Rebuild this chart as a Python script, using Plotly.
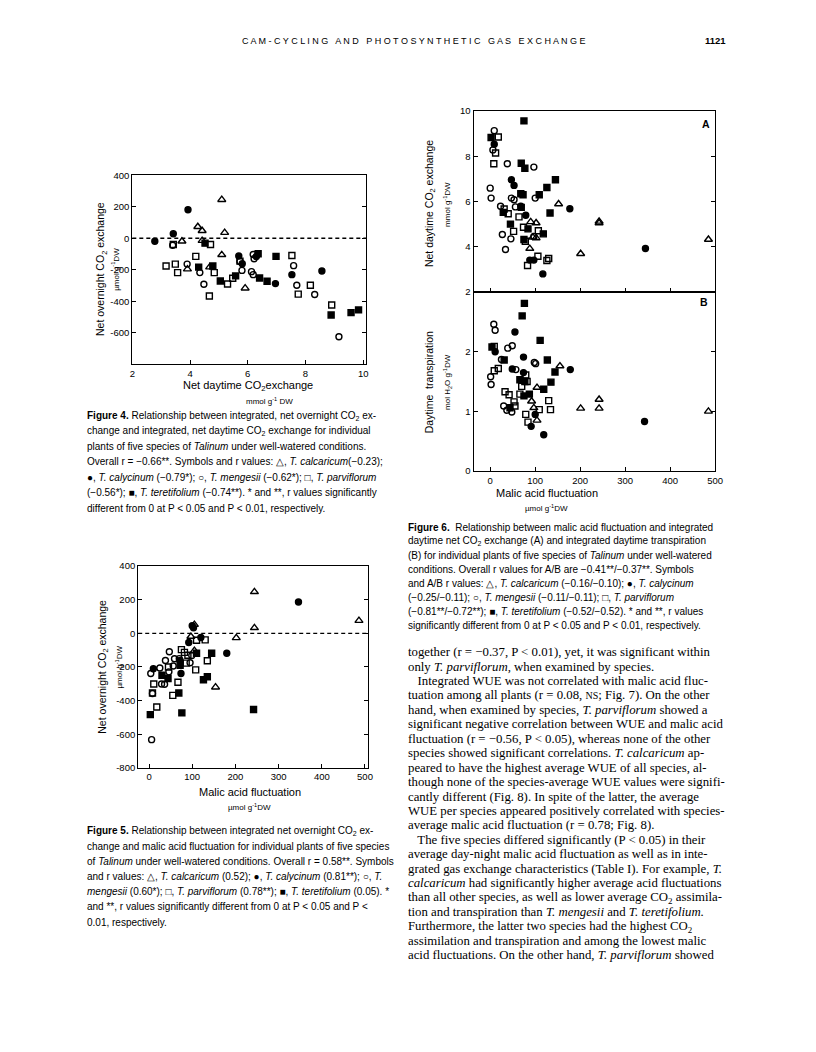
import plotly.graph_objects as go

# the page is drawn inside the default 8px body margin, so every position
# below is given in page pixels and shifted by OFF when placed
OFF = 8
W, H = 800, 1036

species = ["T. calcaricum", "T. calycinum", "T. mengesii", "T. parviflorum", "T. teretifolium"]
symbols = ["triangle-up-open", "circle", "circle-open", "square-open", "square"]

# Figure 4: net daytime CO2 exchange (x) vs net overnight CO2 exchange (y)
f4_calc_x = [5.10, 4.27, 4.42, 5.20, 3.72, 4.42, 5.10, 3.91, 4.68, 5.91]
f4_calc_y = [245, 73, 48, 36, -19, -15, -105, -196, -183, -317]
f4_caly_x = [3.93, 3.42, 2.78, 5.69, 5.81, 6.30, 7.53, 8.57, 6.96]
f4_caly_y = [181, 29, -19, -113, -162, -116, -231, -208, -288]
f4_meng_x = [3.40, 3.90, 4.34, 4.48, 5.73, 5.80, 6.13, 6.19, 6.22, 6.19, 7.59, 7.70, 8.32, 9.16]
f4_meng_y = [-44, -164, -218, -292, -147, -204, -212, -231, -130, -103, -174, -298, -357, -625]
f4_parv_x = [3.17, 3.49, 3.57, 4.20, 4.71, 4.84, 4.67, 5.30, 5.48, 5.73, 7.53, 7.75, 8.17, 8.91, 3.42]
f4_parv_y = [-176, -164, -218, -115, -40, -218, -367, -290, -254, -145, -109, -355, -298, -424, -40]
f4_tere_x = [4.52, 4.30, 4.79, 5.05, 5.58, 6.36, 6.41, 6.67, 6.98, 8.89, 9.58, 9.84]
f4_tere_y = [-31, -183, -176, -271, -239, -98, -252, -273, -115, -487, -472, -455]

# Figure 5: malic acid fluctuation (x) vs net overnight CO2 exchange (y)
f5_calc_x = [244, 486, 244, 202, 97, 105, 154, 105]
f5_calc_y = [247, 76, 33, -27, -19, -103, -320, 52]
f5_caly_x = [346, 103, 92, 120, 180, 72, 74, 10, 100]
f5_caly_y = [186, 33, -54, -25, -118, -161, -239, -210, 45]
f5_meng_x = [47, 38, 25, 4, 56, 46, 29, 36, 59, 99, 95, 6, 8, 70]
f5_meng_y = [-109, -161, -206, -239, -194, -229, -301, -303, -151, -132, -175, -632, -358, -150]
f5_parv_x = [75, 82, 110, 130, 135, 108, 86, 67, 55, 11, 8, 18, 90, 45]
f5_parv_y = [-97, -113, -41, -39, -163, -217, -177, -291, -369, -301, -355, -438, -130, -200]
f5_tere_x = [110, 145, 135, 126, 69, 44, 30, 242, 76, 3, 72]
f5_tere_y = [-118, -118, -258, -276, -355, -268, -249, -453, -473, -483, -190]

# Figure 6A: malic acid fluctuation (x) vs net daytime CO2 exchange (y)
f6a_calc_x = [152, 90, 102, 95, 102, 88, 201, 242, 242, 485]
f6a_calc_y = [5.89, 5.10, 5.05, 4.42, 4.39, 3.92, 3.69, 5.12, 5.05, 4.32]
f6a_caly_x = [9, 47, 53, 177, 79, 68, 88, 97, 117, 345]
f6a_caly_y = [8.53, 6.96, 6.71, 5.68, 5.39, 5.79, 3.41, 3.41, 2.80, 3.92]
f6a_meng_x = [9, 6, 0, 2, 38, 97, 100, 23, 47, 53, 56, 27, 46, 34, 97]
f6a_meng_y = [9.13, 8.28, 6.59, 6.15, 7.67, 7.52, 6.15, 5.79, 6.15, 6.08, 5.76, 4.54, 4.35, 3.88, 4.46]
f6a_parv_x = [18, 12, 8, 31, 40, 52, 64, 74, 78, 83, 106, 126, 130, 107]
f6a_parv_y = [8.85, 8.14, 7.67, 5.67, 5.46, 4.68, 5.32, 4.86, 4.24, 3.17, 3.58, 3.39, 3.48, 4.71]
f6a_tere_x = [75, 2, 69, 77, 145, 126, 109, 68, 73, 133, 69, 45, 29, 84, 75, 118]
f6a_tere_y = [9.56, 8.83, 7.69, 7.47, 6.96, 6.62, 6.30, 6.34, 6.30, 5.49, 5.74, 5.00, 5.52, 4.79, 4.32, 4.57]

# Figure 6B: malic acid fluctuation (x) vs daytime transpiration (y)
f6b_calc_x = [155, 104, 92, 97, 104, 201, 242, 242, 485]
f6b_calc_y = [1.76, 1.40, 1.17, 1.06, 0.85, 1.05, 1.20, 1.05, 1.00]
f6b_caly_x = [55, 11, 74, 49, 74, 178, 100, 91, 119, 343]
f6b_caly_y = [2.33, 2.00, 1.91, 1.71, 1.65, 1.70, 0.95, 0.75, 0.61, 0.83]
f6b_meng_x = [8, 11, 1, 2, 39, 49, 25, 57, 98, 101, 30, 37, 48]
f6b_meng_y = [2.46, 2.36, 1.58, 1.45, 2.06, 2.10, 1.87, 1.70, 1.82, 1.80, 1.09, 1.02, 0.99]
f6b_parv_x = [9, 18, 9, 33, 42, 53, 55, 66, 70, 79, 82, 79, 84, 130, 134, 109]
f6b_parv_y = [2.09, 1.72, 1.68, 1.33, 1.28, 1.16, 1.09, 1.29, 1.42, 1.61, 1.50, 0.95, 0.82, 1.18, 1.03, 1.03]
f6b_tere_x = [76, 71, 111, 127, 31, 144, 135, 119, 66, 77, 87, 75, 44, 4]
f6b_tere_y = [2.81, 2.60, 2.19, 1.86, 1.86, 1.66, 1.49, 1.37, 1.53, 1.50, 1.29, 1.26, 1.06, 2.08]

f4_xticks = [2, 4, 6, 8, 10]
f4_yticks = [400, 200, 0, -200, -400, -600, -800]
f4_ylabels = ["400", "200", "0", "-200", "-400", "-600", ""]
f5_xticks = [0, 100, 200, 300, 400, 500]
f5_yticks = [400, 200, 0, -200, -400, -600, -800]
f5_ylabels = ["400", "200", "0", "-200", "-400", "-600", "-800"]
f6a_yticks = [2, 4, 6, 8, 10]
f6b_yticks = [0, 1, 2, 3]
f6b_ylabels = ["0", "1", "2", ""]

header = "C A M - C Y C L I N G   A N D   P H O T O S Y N T H E T I C   G A S   E X C H A N G E"
page_no = "1121"

cap4 = [
    "<b>Figure 4.</b> Relationship between integrated, net overnight CO<sub>2</sub> ex-",
    "change and integrated, net daytime CO<sub>2</sub> exchange for individual",
    "plants of five species of <i>Talinum</i> under well-watered conditions.",
    "Overall r = \u22120.66**. Symbols and r values: \u25b3, <i>T. calcaricum</i>(\u22120.23);",
    "\u25cf, <i>T. calycinum</i> (\u22120.79*); \u25cb, <i>T. mengesii</i> (\u22120.62*); \u25a1, <i>T. parviflorum</i>",
    "(\u22120.56*); \u25a0, <i>T. teretifolium</i> (\u22120.74**). * and **, r values significantly",
    "different from 0 at P &lt; 0.05 and P &lt; 0.01, respectively.",
]
cap5 = [
    "<b>Figure 5.</b> Relationship between integrated net overnight CO<sub>2</sub> ex-",
    "change and malic acid fluctuation for individual plants of five species",
    "of <i>Talinum</i> under well-watered conditions. Overall r = 0.58**. Symbols",
    "and r values: \u25b3, <i>T. calcaricum</i> (0.52); \u25cf, <i>T. calycinum</i> (0.81**); \u25cb, <i>T.</i>",
    "<i>mengesii</i> (0.60*); \u25a1, <i>T. parviflorum</i> (0.78**); \u25a0, <i>T. teretifolium</i> (0.05). *",
    "and **, r values significantly different from 0 at P &lt; 0.05 and P &lt;",
    "0.01, respectively.",
]
cap6 = [
    "<b>Figure 6.</b>  Relationship between malic acid fluctuation and integrated",
    "daytime net CO<sub>2</sub> exchange (A) and integrated daytime transpiration",
    "(B) for individual plants of five species of <i>Talinum</i> under well-watered",
    "conditions. Overall r values for A/B are \u22120.41**/\u22120.37**. Symbols",
    "and A/B r values: \u25b3, <i>T. calcaricum</i> (\u22120.16/\u22120.10); \u25cf, <i>T. calycinum</i>",
    "(\u22120.25/\u22120.11); \u25cb, <i>T. mengesii</i> (\u22120.11/\u22120.11); \u25a1, <i>T. parviflorum</i>",
    "(\u22120.81**/\u22120.72**); \u25a0, <i>T. teretifolium</i> (\u22120.52/\u22120.52). * and **, r values",
    "significantly different from 0 at P &lt; 0.05 and P &lt; 0.01, respectively.",
]
body = [
    "together (r = \u22120.37, P &lt; 0.01), yet, it was significant within",
    "only <i>T. parviflorum</i>, when examined by species.",
    "   Integrated WUE was not correlated with malic acid fluc-",
    "tuation among all plants (r = 0.08, <span style='font-size:10px'>NS</span>; Fig. 7). On the other",
    "hand, when examined by species, <i>T. parviflorum</i> showed a",
    "significant negative correlation between WUE and malic acid",
    "fluctuation (r = \u22120.56, P &lt; 0.05), whereas none of the other",
    "species showed significant correlations. <i>T. calcaricum</i> ap-",
    "peared to have the highest average WUE of all species, al-",
    "though none of the species-average WUE values were signifi-",
    "cantly different (Fig. 8). In spite of the latter, the average",
    "WUE per species appeared positively correlated with species-",
    "average malic acid fluctuation (r = 0.78; Fig. 8).",
    "   The five species differed significantly (P &lt; 0.05) in their",
    "average day-night malic acid fluctuation as well as in inte-",
    "grated gas exchange characteristics (Table I). For example, <i>T.</i>",
    "<i>calcaricum</i> had significantly higher average acid fluctuations",
    "than all other species, as well as lower average CO<sub>2</sub> assimila-",
    "tion and transpiration than <i>T. mengesii</i> and <i>T. teretifolium.</i>",
    "Furthermore, the latter two species had the highest CO<sub>2</sub>",
    "assimilation and transpiration and among the lowest malic",
    "acid fluctuations. On the other hand, <i>T. parviflorum</i> showed",
]

SANS = "Liberation Sans, Arial, sans-serif"
SERIF = "Liberation Serif, Times New Roman, serif"


def px(x):
    return (x - OFF) / W


def py(y):
    return 1 - (y - OFF) / H


fig = go.Figure()


def add_species(xs, ys, xa, ya):
    for name, sym, x, y in zip(species, symbols, xs, ys):
        size = 7 if sym.startswith("triangle") else 6
        fig.add_trace(go.Scatter(
            x=x, y=y, mode="markers", name=name, showlegend=False,
            xaxis=xa, yaxis=ya,
            marker=dict(symbol=sym, size=size, color="black",
                        line=dict(color="black", width=1.4)),
        ))


add_species([f4_calc_x, f4_caly_x, f4_meng_x, f4_parv_x, f4_tere_x],
            [f4_calc_y, f4_caly_y, f4_meng_y, f4_parv_y, f4_tere_y], "x", "y")
add_species([f5_calc_x, f5_caly_x, f5_meng_x, f5_parv_x, f5_tere_x],
            [f5_calc_y, f5_caly_y, f5_meng_y, f5_parv_y, f5_tere_y], "x2", "y2")
add_species([f6a_calc_x, f6a_caly_x, f6a_meng_x, f6a_parv_x, f6a_tere_x],
            [f6a_calc_y, f6a_caly_y, f6a_meng_y, f6a_parv_y, f6a_tere_y], "x3", "y3")
add_species([f6b_calc_x, f6b_caly_x, f6b_meng_x, f6b_parv_x, f6b_tere_x],
            [f6b_calc_y, f6b_caly_y, f6b_meng_y, f6b_parv_y, f6b_tere_y], "x4", "y4")

axis_style = dict(
    showline=True, linecolor="black", linewidth=1.2, mirror="ticks",
    ticks="inside", ticklen=4, tickwidth=1, tickcolor="black",
    showgrid=False, zeroline=False,
    tickfont=dict(family=SANS, size=9.5, color="black"),
)

fig.update_layout(
    width=W, height=H,
    margin=dict(l=0, r=0, t=0, b=0),
    paper_bgcolor="white", plot_bgcolor="white",
    xaxis=dict(axis_style, domain=[px(131), px(368)], range=[2, 10.1],
               tickvals=f4_xticks, mirror=True, anchor="y"),
    yaxis=dict(axis_style, domain=[py(362), py(171)], range=[-800, 400],
               tickvals=f4_yticks, ticktext=f4_ylabels, anchor="x"),
    xaxis2=dict(axis_style, domain=[px(137), px(370)], range=[-25, 507],
                tickvals=f5_xticks, mirror=True, anchor="y2"),
    yaxis2=dict(axis_style, domain=[py(770), py(566)], range=[-800, 400],
                tickvals=f5_yticks, ticktext=f5_ylabels, anchor="x2"),
    xaxis3=dict(axis_style, domain=[px(477), px(722)], range=[-37, 500],
                tickvals=f5_xticks[:-1], showticklabels=False, mirror=True,
                anchor="y3"),
    yaxis3=dict(axis_style, domain=[py(289), py(106)], range=[2, 10],
                tickvals=f6a_yticks, anchor="x3"),
    xaxis4=dict(axis_style, domain=[px(477), px(722)], range=[-37, 500],
                tickvals=f5_xticks, mirror=True, anchor="y4"),
    yaxis4=dict(axis_style, domain=[py(470), py(289)], range=[0, 3],
                tickvals=f6b_yticks, ticktext=f6b_ylabels, anchor="x4"),
)

# dashed zero lines
for xr, yr in [("x domain", "y"), ("x2 domain", "y2")]:
    fig.add_shape(type="line", xref=xr, yref=yr, x0=0, x1=1, y0=0, y1=0,
                  line=dict(color="black", width=1.3, dash="4px,3px"))


def note(x, y, text, size=9, family=SANS, anchor="left", angle=0):
    fig.add_annotation(x=px(x), y=py(y), xref="paper", yref="paper",
                       text=text, showarrow=False, xanchor=anchor,
                       yanchor="middle", textangle=angle,
                       font=dict(family=family, size=size, color="black"))


# page header
note(416, 35, header, size=9, anchor="center")
note(722, 35, "<b>" + page_no + "</b>", size=9.5, anchor="center")

# axis titles, figure 4
note(100, 266, "Net overnight CO<sub>2</sub> exchange", size=10.5, anchor="center", angle=-90)
note(114, 266, "\u00b5mol g<sup>-1</sup>DW", size=8, anchor="center", angle=-90)
note(248, 384, "Net daytime CO<sub>2</sub>exchange", size=11, anchor="center")
note(270, 399, "mmol g<sup>-1</sup> DW", size=8, anchor="center")

# axis titles, figure 5
note(101, 668, "Net overnight CO<sub>2</sub> exchange", size=10.5, anchor="center", angle=-90)
note(117, 668, "\u00b5mol g<sup>-1</sup>DW", size=8, anchor="center", angle=-90)
note(250, 794, "Malic acid fluctuation", size=11, anchor="center")
note(250, 810, "\u00b5mol g<sup>-1</sup>DW", size=8, anchor="center")

# axis titles, figure 6
note(433, 200, "Net daytime CO<sub>2</sub> exchange", size=10.5, anchor="center", angle=-90)
note(450, 200, "mmol g<sup>-1</sup>DW", size=8, anchor="center", angle=-90)
note(432, 380, "Daytime  transpiration", size=10.5, anchor="center", angle=-90)
note(450, 380, "mol H<sub>2</sub>O g<sup>-1</sup>DW", size=8, anchor="center", angle=-90)
note(551, 492, "Malic acid fluctuation", size=11, anchor="center")
note(551, 507, "\u00b5mol g<sup>-1</sup>DW", size=8, anchor="center")
note(713, 119, "<b>A</b>", size=10.5, anchor="center")
note(711, 299, "<b>B</b>", size=10.5, anchor="center")

# captions
for i, line in enumerate(cap4):
    note(83, 414 + i * 15.6, line, size=10)
for i, line in enumerate(cap5):
    note(83, 834 + i * 15.3, line, size=10)
for i, line in enumerate(cap6):
    note(409, 527 + i * 14.1, line, size=10)

# body text
for i, line in enumerate(body):
    note(409, 653 + i * 14.6, line, size=12.8, family=SERIF)

fig.write_html("out.html")
